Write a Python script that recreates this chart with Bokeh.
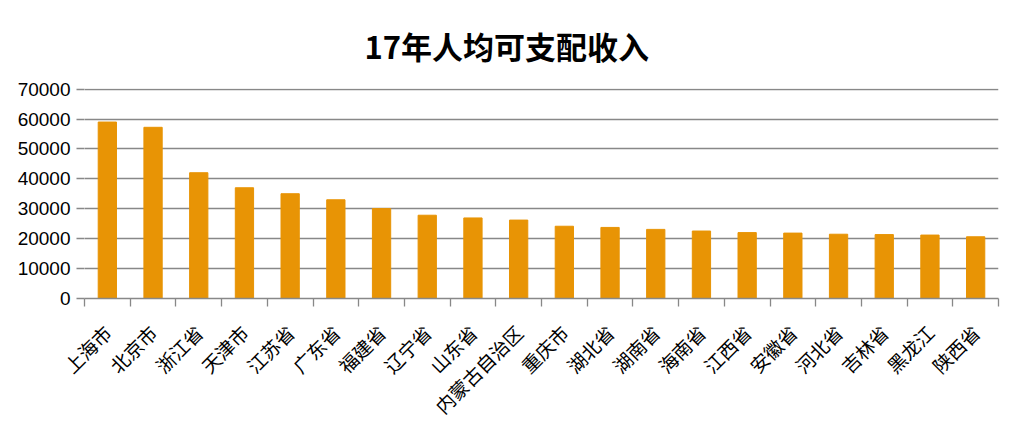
import math
from bokeh.plotting import figure
from bokeh.models import FixedTicker, Range1d, NumeralTickFormatter, ColumnDataSource
from bokeh.embed import file_html
from bokeh.resources import INLINE

title_text = "17年人均可支配收入"
provinces = ["上海市", "北京市", "浙江省", "天津市", "江苏省", "广东省", "福建省", "辽宁省",
             "山东省", "内蒙古自治区", "重庆市", "湖北省", "湖南省", "海南省", "江西省",
             "安徽省", "河北省", "吉林省", "黑龙江", "陕西省"]
income = [58988, 57230, 42046, 37022, 35024, 33003, 30048, 27835, 26930, 26212,
          24153, 23757, 23103, 22553, 22031, 21863, 21484, 21368, 21206, 20635]
y_ticks = [0, 10000, 20000, 30000, 40000, 50000, 60000, 70000]

pos = list(range(1, len(provinces) + 1))
bounds = [i + 0.5 for i in range(len(provinces) + 1)]
src = ColumnDataSource(dict(x=pos, top=income, name=provinces))

GRAY = "#888888"
p = figure(width=1012, height=432, output_backend="svg", toolbar_location=None,
           x_range=Range1d(0.5, len(provinces) + 0.5), y_range=Range1d(0, 70200),
           min_border_left=84, min_border_right=14, min_border_top=88, min_border_bottom=134)

p.vbar(x="x", top="top", width=0.4, source=src, color="#E89405")

p.title.text = title_text
p.title.text_font = "Noto Sans CJK SC"
p.title.text_font_size = "31px"
p.title.text_font_style = "bold"
p.title.text_color = "black"
p.title.align = "left"
p.title.vertical_align = "top"
p.title.offset = 280
p.title.standoff = 38

p.outline_line_color = None
p.xgrid.grid_line_color = None
p.ygrid.grid_line_color = GRAY
p.ygrid.grid_line_width = 1.3
p.ygrid.ticker = FixedTicker(ticks=y_ticks)

xa = p.xaxis[0]
xa.ticker = FixedTicker(ticks=pos, minor_ticks=bounds)
xa.major_label_overrides = {i: n for i, n in zip(pos, provinces)}
xa.major_label_orientation = math.pi / 4
xa.major_label_text_font = "Noto Sans CJK SC"
xa.major_label_text_font_size = "19px"
xa.major_label_text_color = "black"
xa.major_tick_in = 0
xa.major_tick_out = 0
xa.major_tick_line_color = None
xa.minor_tick_in = 0
xa.minor_tick_out = 8
xa.minor_tick_line_color = GRAY
xa.minor_tick_line_width = 1.3
xa.axis_line_color = GRAY
xa.axis_line_width = 1.3
xa.major_label_standoff = 22

ya = p.yaxis[0]
ya.ticker = FixedTicker(ticks=y_ticks)
ya.formatter = NumeralTickFormatter(format="0")
ya.axis_line_color = None
ya.major_tick_in = 0
ya.major_tick_out = 8
ya.major_tick_line_color = GRAY
ya.major_tick_line_width = 1.3
ya.minor_tick_line_color = None
ya.major_label_text_font = "Liberation Sans"
ya.major_label_text_font_size = "19px"
ya.major_label_text_color = "black"
ya.major_label_standoff = 6

open("out.html", "w").write(file_html(p, INLINE))
